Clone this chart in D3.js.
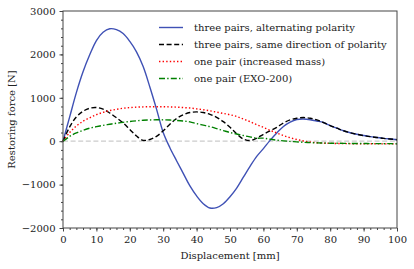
<!DOCTYPE html>
<meta charset="utf-8">
<script src="https://d3js.org/d3.v7.min.js"></script>
<style>
body { margin: 0; background: #fff; }
</style>
<div id="my_dataviz"></div>
<script>

// displacement [mm], every 2 mm
var disp = d3.range(0, 101, 2);

// restoring force [N]
var alternating = [0, 560, 1120, 1600, 1990, 2320, 2510, 2590, 2570, 2480, 2300,
  2060, 1720, 1250, 740, 200, -150, -450, -740, -1030, -1260, -1440, -1540, -1530,
  -1440, -1280, -1080, -830, -580, -350, -170, 20, 190, 340, 440, 500, 510, 495,
  465, 430, 360, 300, 240, 195, 160, 130, 105, 85, 65, 50, 35];
var sameDir = [0, 330, 560, 690, 760, 775, 740, 650, 540, 420, 270, 120, 20, 40,
  110, 240, 390, 520, 610, 660, 675, 660, 620, 550, 450, 320, 170, 50, 15, 70, 160,
  240, 320, 420, 490, 530, 545, 530, 490, 430, 360, 300, 240, 195, 160, 130, 105,
  85, 65, 50, 35];
var increasedMass = [0, 200, 350, 460, 540, 610, 665, 705, 735, 760, 775, 785, 790,
  795, 795, 795, 790, 785, 775, 765, 745, 725, 700, 670, 640, 610, 570, 510, 450,
  380, 320, 250, 190, 130, 80, 40, 5, -20, -35, -45, -50, -53, -55, -57, -58, -59,
  -60, -60, -61, -61, -62];
var exo200 = [0, 110, 190, 250, 300, 335, 365, 390, 415, 435, 455, 470, 482, 490,
  493, 492, 487, 478, 465, 445, 405, 370, 335, 290, 245, 200, 165, 130, 100, 70,
  70, 45, 25, 8, -5, -15, -25, -32, -38, -42, -46, -48, -50, -52, -53, -54, -55,
  -56, -57, -57, -58];

var labels = ["three pairs, alternating polarity",
  "three pairs, same direction of polarity",
  "one pair (increased mass)",
  "one pair (EXO-200)"];

var series = [
  {name: labels[0], values: alternating, color: "#3f51b5", dash: null},
  {name: labels[1], values: sameDir, color: "#000000", dash: "5,2.6"},
  {name: labels[2], values: increasedMass, color: "#ff0000", dash: "1.4,2.2"},
  {name: labels[3], values: exo200, color: "#008000", dash: "6,2.2,1.4,2.2"}
];

var FONT = "DejaVu Serif";

var W = 414, H = 269;
var margin = {top: 11, right: 17, bottom: 41, left: 63};
var width = W - margin.left - margin.right,
    height = H - margin.top - margin.bottom;

var svg = d3.select("#my_dataviz")
  .append("svg")
    .attr("width", W)
    .attr("height", H)
    .style("font-family", FONT)
  .append("g")
    .attr("transform", "translate(" + margin.left + "," + margin.top + ")");

var x = d3.scaleLinear().domain([0, 100]).range([0, width]);
var y = d3.scaleLinear().domain([-2000, 3000]).range([height, 0]);

// zero reference line
svg.append("line")
  .attr("x1", x(0)).attr("x2", x(100))
  .attr("y1", y(0)).attr("y2", y(0))
  .attr("stroke", "#cccccc")
  .attr("stroke-width", 1.2)
  .attr("stroke-dasharray", "5,2.6");

var line = d3.line()
  .x(function(d, i) { return x(disp[i]); })
  .y(function(d) { return y(d); })
  .curve(d3.curveCatmullRom);

series.forEach(function(s) {
  svg.append("path")
    .datum(s.values)
    .attr("fill", "none")
    .attr("stroke", s.color)
    .attr("stroke-width", 1.4)
    .attr("stroke-dasharray", s.dash)
    .attr("d", line);
});

// minor ticks
svg.append("g")
  .attr("transform", "translate(0," + height + ")")
  .call(d3.axisBottom(x).tickValues(d3.range(0, 101, 2)).tickSize(2).tickFormat(""))
  .call(function(g) { g.select(".domain").remove(); })
  .selectAll("line").attr("stroke", "#444");
svg.append("g")
  .call(d3.axisLeft(y).tickValues(d3.range(-2000, 3001, 200)).tickSize(2).tickFormat(""))
  .call(function(g) { g.select(".domain").remove(); })
  .selectAll("line").attr("stroke", "#444");

// major axes
var xAxis = svg.append("g")
  .attr("transform", "translate(0," + height + ")")
  .call(d3.axisBottom(x).ticks(10).tickSize(3.5).tickSizeOuter(0).tickPadding(4));
var yAxis = svg.append("g")
  .call(d3.axisLeft(y).ticks(5).tickFormat(d3.format("d")).tickSize(3.5).tickSizeOuter(0).tickPadding(4));
[xAxis, yAxis].forEach(function(g) {
  g.attr("font-family", FONT).attr("font-size", 10);
  g.selectAll("text").attr("fill", "#222");
  g.selectAll("line").attr("stroke", "#444");
  g.select(".domain").remove();
});

// frame
svg.append("rect")
  .attr("width", width).attr("height", height)
  .attr("fill", "none")
  .attr("stroke", "#444")
  .attr("stroke-width", 1);

// axis titles
svg.append("text")
  .attr("x", width / 2)
  .attr("y", height + 31)
  .attr("fill", "#222")
  .style("text-anchor", "middle")
  .style("font-size", "10px")
  .text("Displacement [mm]");
svg.append("text")
  .attr("transform", "rotate(-90)")
  .attr("x", -height / 2)
  .attr("y", -48)
  .attr("fill", "#222")
  .style("text-anchor", "middle")
  .style("font-size", "10px")
  .text("Restoring force [N]");

// legend
var legend = svg.append("g").attr("transform", "translate(96,16.5)");
series.forEach(function(s, i) {
  var row = legend.append("g").attr("transform", "translate(0," + (i * 17) + ")");
  row.append("line")
    .attr("x1", 0).attr("x2", 24)
    .attr("stroke", s.color)
    .attr("stroke-width", 1.4)
    .attr("stroke-dasharray", s.dash);
  row.append("text")
    .attr("x", 35)
    .attr("dy", "0.32em")
    .attr("fill", "#222")
    .style("font-size", "10px")
    .text(s.name);
});

</script>
